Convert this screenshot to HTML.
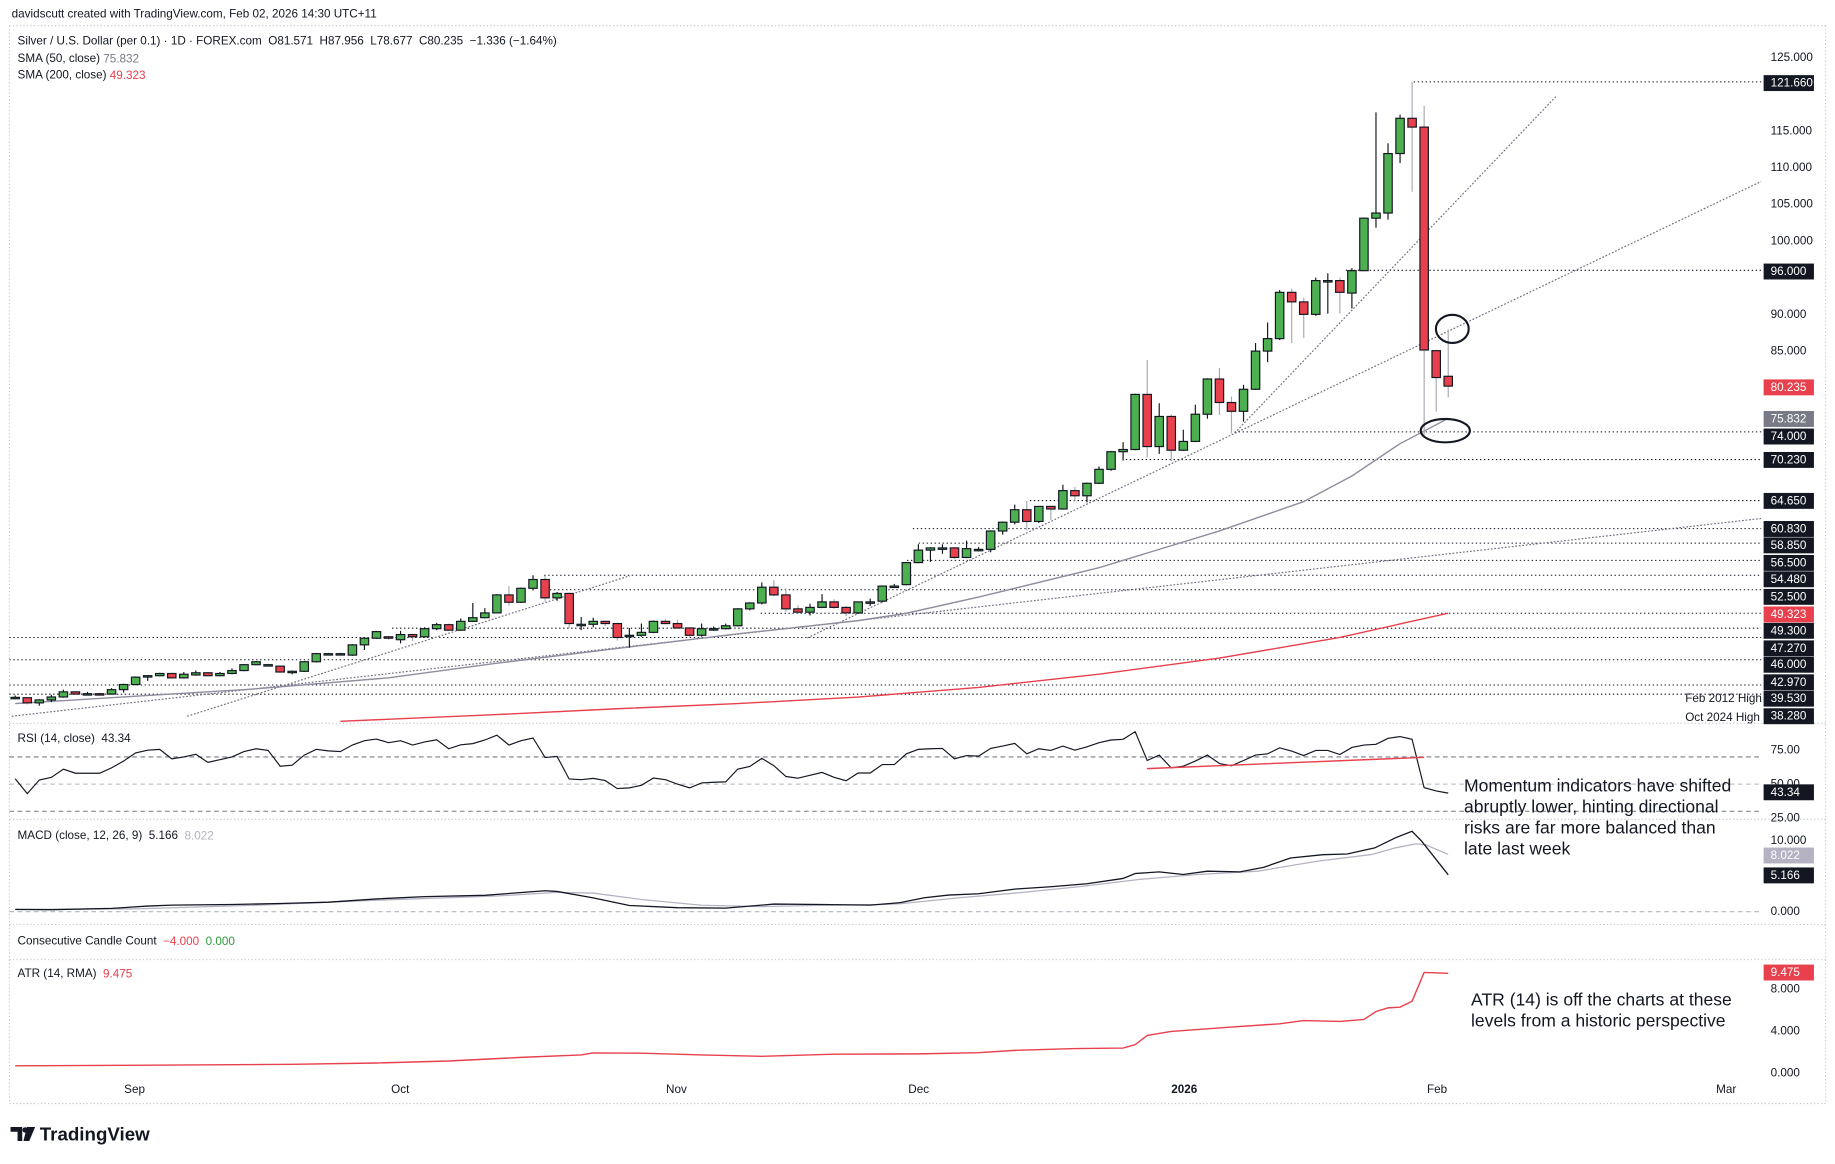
<!DOCTYPE html>
<html><head><meta charset="utf-8">
<style>
html,body{margin:0;padding:0;background:#fff;width:1835px;height:1164px;overflow:hidden}
svg{display:block}
text{font-family:"Liberation Sans",sans-serif}
</style></head>
<body>
<svg id="chart" width="1835" height="1164" viewBox="0 0 1568 994.6" preserveAspectRatio="none" xmlns="http://www.w3.org/2000/svg">
<defs>
<clipPath id="mainClip"><rect x="8" y="22" width="1497" height="596"/></clipPath>
</defs>
<g id="frame"></g>
<g id="main" clip-path="url(#mainClip)"></g>
<g id="ind"></g>
<g id="axes"></g>
<g id="text"></g>
</svg>
<script>
// ---- data ----
const opens=[37.8,37.8,37.1,37.5,37.9,38.6,38.3,38.35,38.3,38.9,39.6,40.65,40.8,41.1,40.5,40.9,41.2,40.8,41.1,41.5,42.3,42.3,42.1,41.4,41.4,42.7,43.8,43.8,43.6,45.0,45.9,46.1,45.7,46.4,46.1,47.2,47.75,47.0,48.2,48.7,49.35,51.8,50.8,52.7,53.9,51.4,52.0,47.8,47.8,48.2,47.9,46.2,46.3,46.7,48.2,47.9,47.3,46.3,47.2,47.2,47.6,49.9,50.7,52.85,51.8,49.9,49.45,50.1,50.85,50.1,49.35,50.85,50.95,53.0,53.2,56.2,57.9,58.2,58.2,56.9,58.0,58.0,60.5,61.7,63.4,61.8,63.85,63.5,66.0,65.3,67.0,68.9,71.3,71.6,79.1,72.0,76.1,71.5,72.7,76.4,81.2,78.0,76.8,79.8,85.0,86.7,93.0,91.7,90.0,94.6,94.6,92.9,95.95,103.1,103.8,111.9,116.7,115.5,85.06,81.57];
const closes=[37.85,37.1,37.5,37.9,38.6,38.3,38.35,38.3,38.9,39.6,40.6,40.8,41.1,40.5,41.0,41.2,40.8,41.1,41.5,42.3,42.7,42.3,41.3,41.4,42.7,43.8,43.8,43.8,45.0,45.9,46.8,45.9,46.4,46.1,47.2,47.75,47.0,48.2,48.7,49.35,51.8,50.8,52.7,53.9,51.4,52.0,47.9,47.8,48.2,47.9,46.0,46.3,46.7,48.2,47.9,47.3,46.3,47.2,47.2,47.6,49.9,50.7,52.85,51.8,49.9,49.45,50.1,50.85,50.1,49.35,50.85,50.85,53.0,53.0,56.2,57.9,58.2,58.2,56.9,58.1,58.0,60.5,61.7,63.4,61.8,63.85,63.5,66.0,65.3,67.0,68.9,71.3,71.6,79.1,72.0,76.1,71.5,72.7,76.4,81.2,78.0,76.8,79.8,85.0,86.7,93.0,91.7,90.0,94.6,94.6,93.0,95.95,103.1,103.8,111.9,116.7,115.5,85.15,81.4,80.235];
const highs=[38.1,37.9,37.6,38.2,38.9,38.7,38.6,38.5,39.1,39.7,40.7,40.9,41.2,41.2,41.3,41.5,41.3,41.3,41.8,42.4,42.8,42.4,42.2,41.5,42.8,43.9,43.9,43.9,45.1,46.0,46.9,46.2,46.9,46.5,47.4,48.0,47.9,48.6,50.7,50.0,51.9,53.0,52.8,54.48,54.4,52.2,52.1,48.8,48.7,48.3,48.0,47.3,47.9,48.3,48.5,48.4,47.4,47.9,47.5,47.9,50.0,50.8,53.5,53.8,52.7,50.4,50.6,51.9,51.2,50.3,50.9,51.3,53.1,53.3,56.3,58.7,58.3,58.7,58.3,59.2,58.3,60.6,61.8,64.1,64.6,63.9,63.9,66.8,66.5,67.1,69.3,71.4,72.6,79.2,83.8,77.9,76.4,74.3,77.7,81.3,82.7,78.8,80.4,86.1,88.9,93.3,93.5,92.3,95.0,95.6,95.0,96.3,103.2,117.5,113.3,117.2,121.66,118.4,85.1,87.956];
const lows=[37.6,36.9,36.7,37.2,37.8,38.2,38.1,38.2,38.2,38.5,39.5,40.1,40.7,40.4,40.4,40.8,40.7,40.7,41.0,41.4,42.2,42.1,41.2,41.0,41.3,42.6,43.7,43.7,43.5,44.3,45.8,45.7,45.2,45.5,46.0,47.0,46.9,46.9,48.1,48.6,49.3,50.3,50.7,52.4,50.9,51.0,47.3,47.0,47.4,47.6,45.6,44.6,46.1,46.6,47.8,47.2,46.1,46.1,46.9,47.1,47.5,49.7,50.5,51.6,49.5,49.2,49.0,50.0,49.9,48.9,49.2,50.3,50.8,52.8,53.1,56.1,56.3,57.4,56.7,56.8,57.7,57.6,60.0,61.4,60.6,61.6,62.0,63.4,64.6,64.4,66.9,68.7,70.1,71.5,70.5,71.0,70.0,71.4,72.6,75.8,76.3,73.8,75.4,79.7,83.5,86.5,86.1,86.8,89.8,90.1,90.1,90.8,95.9,101.8,102.9,110.6,106.7,73.6,76.75,78.677];
// moving averages (sampled bar index / value)
const sma50Bars=[0,10,20,31,40,50,60,70,74,80,90,100,107,111,115,119];
const sma50Vals=[37.0,38.0,39.0,40.5,42.5,44.5,46.5,48.3,49.3,51.5,55.5,60.5,64.5,68.0,72.4,75.832];
const sma200Bars=[27,40,50,60,70,80,90,100,110,119];
const sma200Vals=[34.6,35.5,36.3,37.0,37.9,39.2,41.0,43.2,46.0,49.323];
// RSI per bar
const rsiVals=[54,43,53,55,61,58,58,58,62,67,73,75,75.6,68.6,70,72,66,68,70,74,76,74.8,63.2,64,71.4,75.6,74.5,74,78.8,82,83.2,80.5,82,78.8,81,82.7,76,79,79.8,82.5,86,78.8,82,84,69.6,70.4,53.8,53.3,54.2,52.6,46.7,47.2,49.1,54.5,53.3,50,47.2,50.9,51.4,51.6,61,63,69,63.5,55.6,54.4,56.5,58.6,55,52.5,58.2,58.2,64.4,64.4,72.3,75.6,76,76.3,68.6,71,70.6,76.3,78,80,72.3,76,74.8,78,75,77.5,80.5,82.5,83,88.6,67.4,71.4,62,63.2,67,71.4,65.2,63.5,67.4,71.4,72.3,76.7,74.3,71,74.8,74.8,71.8,77,78.8,79.3,83.7,85,83,47.4,45,43.34];
// MACD (sampled)
const macdBars=[0,3,8,11,13,18,22,26,30,34,39,44,45,48,51,55,59,63,67,71,73.5,75.5,77.5,80,83,86,89,92,93,95,97,99,101.7,103.7,105.9,108.6,110.6,112.9,114.6,116,116.8,119];
const macdVals=[0.32,0.28,0.46,0.78,0.92,1.0,1.15,1.33,1.79,2.11,2.29,2.94,2.84,1.93,0.87,0.55,0.5,1.06,1.0,0.92,1.26,1.95,2.33,2.51,3.16,3.49,3.91,4.65,5.35,5.58,5.21,5.67,5.58,6.23,7.53,7.99,8.09,8.93,10.33,11.26,9.86,5.166];
const sigBars=[0,10,20,30,40,45,48,52,57,62,67,72,73.5,78.4,83.4,88.3,93.3,98.2,103.2,108.1,112.6,114.6,116.3,117.1,119];
const sigVals=[0.3,0.4,0.9,1.6,2.2,2.7,2.6,1.7,0.9,0.7,0.9,1.0,1.12,1.95,2.65,3.49,4.51,5.21,5.67,7.07,8.0,8.93,9.49,9.4,8.022];
// ATR (sampled)
const atrBars=[0,9,23,30,36,42,47,48,52,57,62,68,75,80,83,88,92,93,94,96,101,105,107,110,112,113,114,115,116,117,119];
const atrVals=[0.7,0.75,0.85,0.97,1.15,1.5,1.73,1.92,1.9,1.73,1.6,1.8,1.83,1.95,2.17,2.33,2.39,2.71,3.59,3.97,4.38,4.69,5.0,4.91,5.1,5.86,6.2,6.27,6.83,9.57,9.475];
// axis labels
const priceTicks=[125,115,110,105,100,90,85];
const levelPrices=[121.66,96,74,70.23,64.65,60.83,58.85,56.5,54.48,52.5,49.3,47.27,46,42.97,39.53,38.28];
const levelStartX=[1208,1150,1055,962,880,780,785,775,465,470,650,335,8,8,8,8];
const levelLabelY=[71,232,373,393,428,452,466,481,495,510,539,554,568,583,597,612];
const monthLabels=['Sep','Oct','Nov','Dec','2026','Feb','Mar'];
const monthX=[115,342,578,785,1012,1228,1475];

// ---- axis functions ----
const NS='http://www.w3.org/2000/svg';
const xb=i=>13+i*10.29;
const py=p=>49+(125-p)*6.275;
const ry=v=>641+(75-v)*1.16;
const my=v=>779-v*6.1;
const ay=v=>917-v*9;
function mk(tag,attrs,parent){const e=document.createElementNS(NS,tag);for(const k in attrs)e.setAttribute(k,attrs[k]);parent.appendChild(e);return e;}
const G=id=>document.getElementById(id);
const frame=G('frame'),main=G('main'),ind=G('ind'),axes=G('axes'),tl=G('text');
const DOT='#b8bbc3';
const FS=10;

[[8,22,1560,22],[8,22,8,943],[1560,22,1560,943],[8,618,1560,618],[8,700,1560,700],[8,790,1560,790],[8,820,1560,820],[8,943,1560,943]].forEach(s=>{
 const l=mk('line',{x1:s[0],y1:s[1],x2:s[2],y2:s[3],stroke:DOT,'stroke-width':0.8,'stroke-dasharray':'1,2'},frame);
 
 
});

levelPrices.forEach((p,k)=>{
 const l=mk('line',{x1:levelStartX[k],y1:py(p),x2:1505,y2:py(p),stroke:'#131722','stroke-width':0.9,'stroke-dasharray':'1.2,2.2'},main);
 
 
});
[[160,612,538,492],[10,612,1505,443],[690,545,1505,155],[1055,370,1330,82]].forEach((t,k)=>{
 const l=mk('line',{x1:t[0],y1:t[1],x2:t[2],y2:t[3],stroke:'#6e6c80','stroke-width':1,'stroke-dasharray':'1.5,1.5'},main);
 
 
});
function poly(bars,vals,fx,fy){return bars.map((b,i)=>fx(b).toFixed(1)+','+fy(vals[i]).toFixed(1)).join(' ');}
const s200=mk('polyline',{points:poly(sma200Bars,sma200Vals,xb,py),fill:'none',stroke:'#e8404d','stroke-width':1.2},main);


const s50=mk('polyline',{points:poly(sma50Bars,sma50Vals,xb,py),fill:'none',stroke:'#8f8d9e','stroke-width':1.2},main);



for(let i=0;i<opens.length;i++){
 const o=opens[i],c=closes[i],up=c>=o,x=xb(i);
 const w=mk('line',{x1:x,y1:py(highs[i]),x2:x,y2:py(lows[i]),stroke:up?'#131722':'#a9a8b5','stroke-width':1},main);
 
 
 const top=py(Math.max(o,c)),h=Math.max(Math.abs(py(o)-py(c)),1.2);
 const b=mk('rect',{x:x-3.6,y:top,width:7.2,height:h,fill:up?'#4caf50':'#e8404d',stroke:'#131722','stroke-width':1},main);
 
 
}
[[1241,281,14,12],[1235,368,21,10]].forEach((e,k)=>{
 const el=mk('ellipse',{cx:e[0],cy:e[1],rx:e[2],ry:e[3],fill:'none',stroke:'#131722','stroke-width':1.8},main);
 
 
});

[[70,'#787b86'],[50,'#b2b5be'],[30,'#787b86']].forEach(lv=>{
 const l=mk('line',{x1:8,y1:ry(lv[0]),x2:1505,y2:ry(lv[0]),stroke:lv[1],'stroke-width':0.9,'stroke-dasharray':'4,3'},ind);
 
 
});
const rsiL=mk('polyline',{points:rsiVals.map((v,i)=>xb(i).toFixed(1)+','+ry(v).toFixed(1)).join(' '),fill:'none',stroke:'#131722','stroke-width':1},ind);


const rsiT=mk('line',{x1:980,y1:ry(61.4),x2:1217,y2:ry(69.75),stroke:'#e8404d','stroke-width':1.2},ind);



const mz=mk('line',{x1:8,y1:my(0),x2:1505,y2:my(0),stroke:'#b2b5be','stroke-width':0.9,'stroke-dasharray':'4,3'},ind);


const sigL=mk('polyline',{points:poly(sigBars,sigVals,xb,my),fill:'none',stroke:'#b5b3c3','stroke-width':1.1},ind);


const macdL=mk('polyline',{points:poly(macdBars,macdVals,xb,my),fill:'none',stroke:'#131722','stroke-width':1.1},ind);



const atrL=mk('polyline',{points:poly(atrBars,atrVals,xb,ay),fill:'none',stroke:'#e8404d','stroke-width':1.2},ind);



function txt(s,x,y,attrs,name){const t=mk('text',Object.assign({x:x,y:y,'font-size':FS,fill:'#131722','dominant-baseline':'central'},attrs||{}),tl);t.textContent=s;return t;}
function box(s,y,bg,fg,name){const r=mk('rect',{x:1507,y:y-6.8,width:43,height:13.6,fill:bg},axes);const t=mk('text',{x:1513,y:y,'font-size':FS,fill:fg,'dominant-baseline':'central'},axes);t.textContent=s;}

priceTicks.forEach(p=>{const t=mk('text',{x:1513,y:py(p),'font-size':FS,fill:'#131722','dominant-baseline':'central'},axes);t.textContent=p.toFixed(3);});
levelPrices.forEach((p,k)=>box(p.toFixed(3),levelLabelY[k],'#131722','#fff','level-label'));
box('80.235',331,'#e8404d','#fff','last-price-label');
box('75.832',358,'#787b86','#fff','sma50-label');
box('49.323',525,'#e8404d','#fff','sma200-label');
txt('Feb 2012 High',1440,597,{},'feb-2012-high-label');
txt('Oct 2024 High',1440,613,{},'oct-2024-high-label');

[['75.00',ry(75)],['50.00',ry(50)],['25.00',ry(25)],['10.000',my(10)],['0.000',my(0)],['8.000',ay(8)],['4.000',ay(4)],['0.000',ay(0)]].forEach(a=>{const t=mk('text',{x:1513,y:a[1],'font-size':FS,fill:'#131722','dominant-baseline':'central'},axes);t.textContent=a[0];});
box('43.34',677,'#131722','#fff','rsi-value-label');
box('8.022',731,'#b5b3c3','#fff','macd-signal-label');
box('5.166',748,'#131722','#fff','macd-value-label');
box('9.475',831,'#e8404d','#fff','atr-value-label');

monthLabels.forEach((m,k)=>{const t=mk('text',{x:monthX[k],y:931,'font-size':FS,fill:'#131722','text-anchor':'middle','dominant-baseline':'central','font-weight':m==='2026'?'bold':'normal'},axes);t.textContent=m;});

txt('davidscutt created with TradingView.com, Feb 02, 2026 14:30 UTC+11',10,12,{},'header-credit');
txt('Silver / U.S. Dollar (per 0.1) · 1D · FOREX.com  O81.571  H87.956  L78.677  C80.235  −1.336 (−1.64%)',15,35,{style:'white-space:pre'},'symbol-legend');
const s1=txt('SMA (50, close) ',15,50,{},'sma50-legend');const sp1=mk('tspan',{fill:'#787b86'},s1);sp1.textContent=' 75.832';
const s2=txt('SMA (200, close) ',15,64,{},'sma200-legend');const sp2=mk('tspan',{fill:'#e8404d'},s2);sp2.textContent=' 49.323';
txt('RSI (14, close)  43.34',15,631,{style:'white-space:pre'},'rsi-legend');
const mcl=txt('MACD (close, 12, 26, 9)  5.166 ',15,714,{style:'white-space:pre'},'macd-legend');const mt=mk('tspan',{fill:'#b5b3c3'},mcl);mt.textContent=' 8.022';
const ccl=txt('Consecutive Candle Count  ',15,804,{style:'white-space:pre'},'candle-count-legend');const c1=mk('tspan',{fill:'#e8404d'},ccl);c1.textContent='−4.000  ';const c2=mk('tspan',{fill:'#2e9b3a'},ccl);c2.textContent='0.000';
const atl=txt('ATR (14, RMA)  ',15,832,{style:'white-space:pre'},'atr-legend');const at=mk('tspan',{fill:'#e8404d'},atl);at.textContent='9.475';

['Momentum indicators have shifted','abruptly lower, hinting directional','risks are far more balanced than','late last week'].forEach((s,k)=>txt(s,1251,671+k*18,{'font-size':15},'momentum-annotation'));
['ATR (14) is off the charts at these','levels from a historic perspective'].forEach((s,k)=>txt(s,1257,854+k*18,{'font-size':15},'atr-annotation'));

// logo
const lm=mk('path',{d:'M9 963 h10 v12 h-4 v-8 h-6 z M23 963 h7 l-5 12 h-5 z',fill:'#131722'},tl);


const lc=mk('circle',{cx:21.5,cy:965.5,r:2.3,fill:'#131722'},tl);


txt('TradingView',34,969,{'font-size':16,'font-weight':'bold'},'tradingview-logo');
</script>
</body></html>
